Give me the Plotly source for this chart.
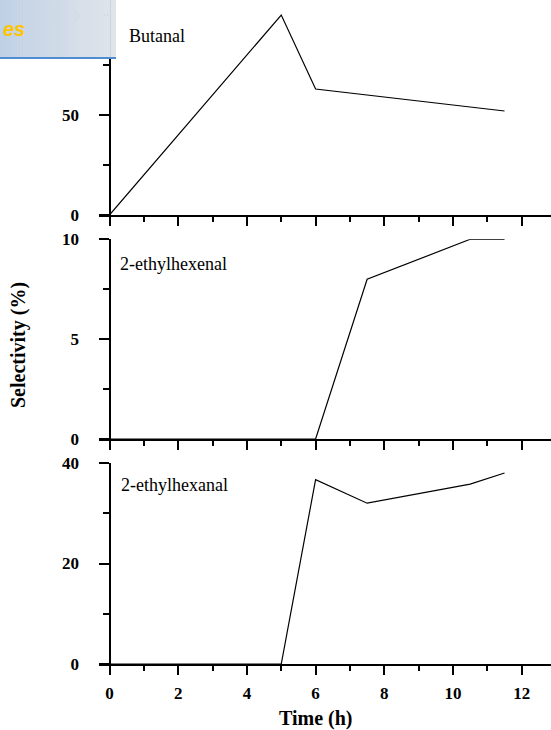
import plotly.graph_objects as go

# ---------------- data ----------------
time_butanal = [0, 5, 6, 7.5, 10.5, 11.5]
butanal = [0, 100, 63, 60, 54, 52]

time_ethylhexenal = [0, 6, 7.5, 10.5, 11.5]
ethylhexenal = [0, 0, 8, 10, 10]

time_ethylhexanal = [0, 5, 6, 7.5, 10.5, 11.5]
ethylhexanal = [0, 0, 36.7, 32, 35.8, 38]

panel_labels = ["Butanal", "2-ethylhexenal", "2-ethylhexanal"]
x_tickvals = [0, 2, 4, 6, 8, 10, 12]
y_major = [50, 5, 20]
y_minor = [25, 2.5, 10]
y_ranges = [[0, 107.5], [0, 10], [0, 40]]

# ---------------- layout helpers ----------------
W, H = 551, 730


def px_x(p):
    return p / W


def px_y(p):
    return 1 - p / H


x0_px = 109.5          # pixel of time = 0
ppu = 34.35            # pixels per hour
x_dom = [px_x(99), 1.0]
x_rng = [(99 - x0_px) / ppu, (W - x0_px) / ppu]
yaxis_pos = px_x(x0_px)

# panel pixel extents (top, bottom)
panels_px = [(0, 215), (239.3, 439), (463, 664)]

FONT = "Liberation Serif, Times New Roman, serif"

fig = go.Figure()
series = [(time_butanal, butanal), (time_ethylhexenal, ethylhexenal),
          (time_ethylhexanal, ethylhexanal)]

for i, (xs, ys) in enumerate(series):
    sfx = "" if i == 0 else str(i + 1)
    fig.add_trace(go.Scatter(x=xs, y=ys, mode="lines",
                             line=dict(color="black", width=1.2),
                             xaxis="x" + sfx, yaxis="y" + sfx,
                             showlegend=False, hoverinfo="skip"))

layout = dict(
    width=W, height=H,
    margin=dict(l=0, r=0, t=0, b=0, autoexpand=False),
    paper_bgcolor="white", plot_bgcolor="white",
    font=dict(family=FONT, color="black"),
)

for i in range(3):
    sfx = "" if i == 0 else str(i + 1)
    top, bot = panels_px[i]
    layout["xaxis" + sfx] = dict(
        domain=x_dom, range=x_rng, anchor="y" + sfx, automargin=False,
        showline=True, linecolor="black", linewidth=2,
        showgrid=False, zeroline=False,
        tickmode="array", tickvals=x_tickvals,
        ticks="outside", ticklen=9, tickwidth=2, tickcolor="black",
        showticklabels=(i == 2),
        tickfont=dict(family=FONT, size=17, weight="bold"),
        ticklabelstandoff=4,
        minor=dict(dtick=1, tick0=0, ticks="outside", ticklen=5,
                   tickwidth=2, tickcolor="black"),
    )
    layout["yaxis" + sfx] = dict(
        domain=[px_y(bot), px_y(top)], range=y_ranges[i], automargin=False,
        anchor="free", position=yaxis_pos,
        showline=True, linecolor="black", linewidth=2,
        showgrid=False, zeroline=False,
        tick0=0, dtick=y_major[i],
        ticks="outside", ticklen=10, tickwidth=2, tickcolor="black",
        tickfont=dict(family=FONT, size=17, weight="bold"),
        ticklabelstandoff=16,
        minor=dict(dtick=y_minor[i], tick0=0, ticks="outside", ticklen=6,
                   tickwidth=2, tickcolor="black"),
    )

fig.update_layout(**layout)

# panel labels
label_pos = [(127, 36), (118, 264), (119, 485)]
annotations = []
for lab, (lx, ly) in zip(panel_labels, label_pos):
    annotations.append(dict(text=lab, x=px_x(lx), y=px_y(ly), xref="paper",
                            yref="paper", xanchor="left", yanchor="middle",
                            showarrow=False,
                            font=dict(family=FONT, size=18, color="black")))

# axis titles
annotations.append(dict(text="Time (h)", x=px_x(x0_px + 6 * ppu), y=px_y(718),
                        xref="paper", yref="paper", xanchor="center",
                        yanchor="middle", showarrow=False,
                        font=dict(family=FONT, size=20, weight="bold")))
annotations.append(dict(text="Selectivity (%)", x=px_x(18), y=px_y(345),
                        xref="paper", yref="paper", xanchor="center",
                        yanchor="middle", showarrow=False, textangle=-90,
                        font=dict(family=FONT, size=20, weight="bold")))

# decorative banner (top-left), simulated gradient
shapes = []
n = 40
bx1 = 116
c0 = (192, 209, 229)
c1 = (224, 228, 234)
for k in range(n):
    t = k / (n - 1)
    col = tuple(round(c0[j] + (c1[j] - c0[j]) * t) for j in range(3))
    xa = bx1 * k / n
    xb = min(bx1 * (k + 1) / n + 0.5, bx1)
    shapes.append(dict(type="rect", xref="paper", yref="paper",
                       x0=px_x(xa), x1=px_x(xb),
                       y0=px_y(57), y1=1.0, layer="above",
                       line=dict(width=0), fillcolor="rgb(%d,%d,%d)" % col))
shapes.append(dict(type="rect", xref="paper", yref="paper",
                   x0=0, x1=px_x(bx1), y0=px_y(59), y1=px_y(57), layer="above",
                   line=dict(width=0), fillcolor="rgb(80,140,210)"))
annotations.append(dict(text="<i>es</i>", x=px_x(1), y=px_y(29),
                        xref="paper", yref="paper", xanchor="left",
                        yanchor="middle", showarrow=False,
                        font=dict(family="Liberation Sans, Arial, sans-serif",
                                  size=20, weight="bold",
                                  color="rgb(255,196,0)")))

fig.update_layout(shapes=shapes, annotations=annotations)

fig.write_html("out.html",
               config={"displayModeBar": False},
               post_script="document.body.style.margin='0';"
                           "document.body.style.overflow='hidden';")
